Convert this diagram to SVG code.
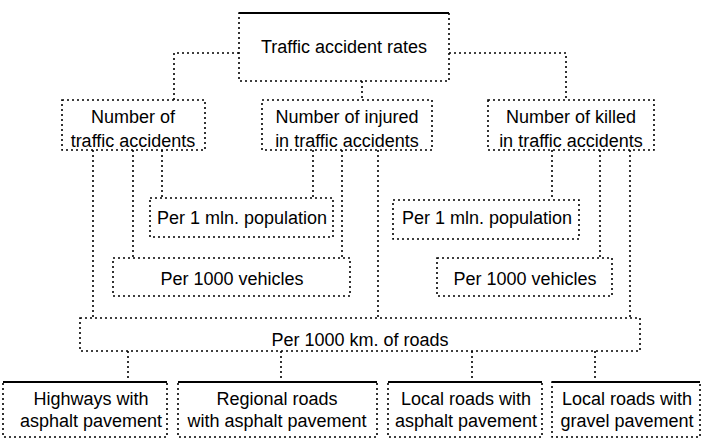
<svg xmlns="http://www.w3.org/2000/svg" width="703" height="438" viewBox="0 0 703 438">
<style>
.box{fill:none;stroke:#000;stroke-width:1.6;stroke-dasharray:2 3}
.solid{fill:none;stroke:#000;stroke-width:2}
.c{fill:none;stroke:#000;stroke-width:1.6;stroke-dasharray:2 3}
text{font-family:"Liberation Sans",Arial,sans-serif;font-size:18px;fill:#000;text-anchor:middle}
</style>
<rect width="703" height="438" fill="#fff"/>
<g id="connectors">
<path class="c" d="M239 53 H174 V100"/>
<path class="c" d="M449 53 H566 V100"/>
<path class="c" d="M362 81 V100"/>
<path class="c" d="M93 150 V318"/>
<path class="c" d="M133 150 V258"/>
<path class="c" d="M162 150 V198"/>
<path class="c" d="M313 150 V198"/>
<path class="c" d="M342 150 V258"/>
<path class="c" d="M378 150 V318"/>
<path class="c" d="M552 150 V200"/>
<path class="c" d="M600 150 V258"/>
<path class="c" d="M630 150 V318"/>
<path class="c" d="M128 351 V382"/>
<path class="c" d="M281 351 V382"/>
<path class="c" d="M472 351 V382"/>
<path class="c" d="M595 351 V382"/>
</g>
<g id="root">
<rect class="box" x="239" y="13" width="210" height="68"/>
<line class="solid" x1="239" y1="13" x2="449" y2="13"/>
<text x="344" y="53">Traffic accident rates</text>
</g>
<g id="n-accidents">
<rect class="box" x="62" y="100" width="143" height="50"/>
<text x="133" y="123">Number of</text>
<text x="133" y="147">traffic accidents</text>
</g>
<g id="n-injured">
<rect class="box" x="262" y="100" width="170" height="50"/>
<text x="347" y="123">Number of injured</text>
<text x="347" y="147">in traffic accidents</text>
</g>
<g id="n-killed">
<rect class="box" x="488" y="100" width="166" height="50"/>
<text x="571" y="123">Number of killed</text>
<text x="571" y="147">in traffic accidents</text>
</g>
<g id="pop-left">
<rect class="box" x="150" y="198" width="183" height="39"/>
<text x="242" y="224">Per 1 mln. population</text>
</g>
<g id="pop-right">
<rect class="box" x="393" y="200" width="186" height="39"/>
<text x="487" y="224">Per 1 mln. population</text>
</g>
<g id="veh-left">
<rect class="box" x="113" y="258" width="237" height="38"/>
<text x="232" y="285">Per 1000 vehicles</text>
</g>
<g id="veh-right">
<rect class="box" x="437" y="258" width="175" height="38"/>
<text x="525" y="285">Per 1000 vehicles</text>
</g>
<g id="km-roads">
<rect class="box" x="80" y="318" width="560" height="33"/>
<text x="360" y="346">Per 1000 km. of roads</text>
</g>
<g id="highways">
<rect class="box" x="3" y="382" width="164" height="55"/>
<line class="solid" x1="3" y1="382" x2="167" y2="382"/>
<text x="91" y="405">Highways with</text>
<text x="91" y="427">asphalt pavement</text>
</g>
<g id="regional">
<rect class="box" x="178" y="382" width="199" height="55"/>
<line class="solid" x1="178" y1="382" x2="377" y2="382"/>
<text x="277" y="405">Regional roads</text>
<text x="277" y="427">with asphalt pavement</text>
</g>
<g id="local-asphalt">
<rect class="box" x="388" y="382" width="154" height="55"/>
<line class="solid" x1="388" y1="382" x2="542" y2="382"/>
<text x="466" y="405">Local roads with</text>
<text x="466" y="427">asphalt pavement</text>
</g>
<g id="local-gravel">
<rect class="box" x="552" y="382" width="148" height="55"/>
<line class="solid" x1="552" y1="382" x2="700" y2="382"/>
<text x="627" y="405">Local roads with</text>
<text x="627" y="427">gravel pavement</text>
</g>
</svg>
